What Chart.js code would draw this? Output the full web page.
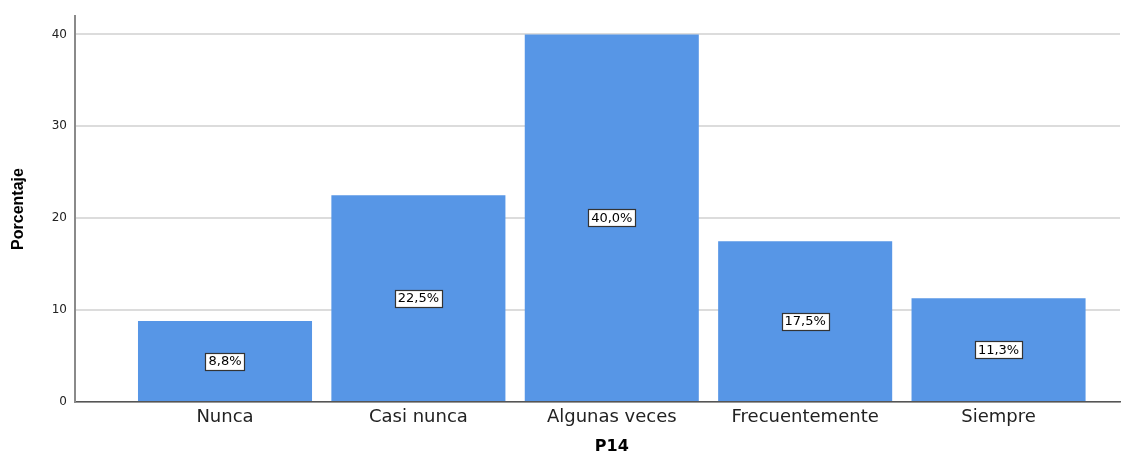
<!DOCTYPE html>
<html>
<head>
<meta charset="utf-8">
<script src="https://cdn.jsdelivr.net/npm/chart.js@4"></script>
<style>
  html, body { margin: 0; padding: 0; background: #fff; }
  #wrap { width: 1135px; height: 455px; }
</style>
</head>
<body>
<div id="wrap"><canvas id="chart" width="1135" height="455"></canvas></div>
<script>
'use strict';

const categories = ['Nunca', 'Casi nunca', 'Algunas veces', 'Frecuentemente', 'Siempre'];
const percentages = [8.8, 22.5, 40.0, 17.5, 11.3];
const yTicks = [0, 10, 20, 30, 40];
const xTitle = 'P14';
const yTitle = 'Porcentaje';

const barColor = '#5796e6';

// boxed value labels in the middle of each bar + the x axis title under the middle bar
const labelsPlugin = {
  id: 'boxLabels',
  afterDatasetsDraw: (chart) => {
    const { ctx } = chart;
    const meta = chart.getDatasetMeta(0);
    ctx.save();
    ctx.font = '13px "DejaVu Sans", sans-serif';
    ctx.textAlign = 'center';
    ctx.textBaseline = 'middle';
    meta.data.forEach((bar, i) => {
      const text = percentages[i].toFixed(1).replace('.', ',') + '%';
      const cy = (bar.y + bar.base) / 2;
      const w = ctx.measureText(text).width + 6;
      const h = 17;
      ctx.fillStyle = '#fff';
      ctx.fillRect(Math.round(bar.x - w / 2) + 0.5, Math.round(cy - h / 2) + 0.5, Math.round(w), h);
      ctx.strokeStyle = '#333';
      ctx.lineWidth = 1.2;
      ctx.strokeRect(Math.round(bar.x - w / 2) + 0.5, Math.round(cy - h / 2) + 0.5, Math.round(w), h);
      ctx.fillStyle = '#000';
      ctx.fillText(text, bar.x, cy + 1);
    });
    const xScale = chart.scales.x;
    ctx.font = 'bold 16px "DejaVu Sans", sans-serif';
    ctx.fillText(xTitle, xScale.getPixelForValue((categories.length - 1) / 2), 447);
    ctx.restore();
  },
};

const ctx = document.querySelector('#chart');

new Chart(ctx, {
  type: 'bar',
  data: {
    datasets: [{
      data: percentages.map((v, i) => ({ x: i, y: v })),
      backgroundColor: barColor,
      borderWidth: 0,
      barPercentage: 0.9,
      categoryPercentage: 1,
    }],
  },
  plugins: [labelsPlugin],
  options: {
    responsive: false,
    animation: false,
    layout: { padding: { top: 16, right: 15, left: 0, bottom: 0 } },
    scales: {
      x: {
        type: 'linear',
        offset: false,
        min: -0.7757,
        max: 4.628,
        afterFit: (scale) => { scale.height = 53; },
        afterBuildTicks: (scale) => {
          scale.ticks = categories.map((c, i) => ({ value: i }));
        },
        grid: { display: false, drawTicks: false },
        border: { display: true, color: '#555', width: 1.5 },
        ticks: {
          padding: 5,
          color: '#222',
          maxRotation: 0,
          autoSkip: false,
          font: { family: '"DejaVu Sans", sans-serif', size: 18 },
          callback: (value) => categories[value],
        },
      },
      y: {
        min: 0,
        max: 42,
        afterFit: (scale) => { scale.width = 75; },
        afterBuildTicks: (scale) => {
          scale.ticks = yTicks.map((v) => ({ value: v }));
        },
        grid: { color: '#dcdcdc', lineWidth: 2, drawTicks: false },
        border: { display: true, color: '#8a8a8a', width: 2 },
        ticks: {
          padding: 8,
          color: '#222',
          font: { family: '"DejaVu Sans", sans-serif', size: 12 },
        },
        title: {
          display: true,
          text: yTitle,
          color: '#000',
          padding: { top: 9, bottom: 0 },
          font: { family: '"Liberation Sans", Arial, sans-serif', size: 16, weight: 'bold' },
        },
      },
    },
    plugins: {
      legend: { display: false },
      tooltip: { enabled: false },
    },
  },
});
</script>
</body>
</html>
